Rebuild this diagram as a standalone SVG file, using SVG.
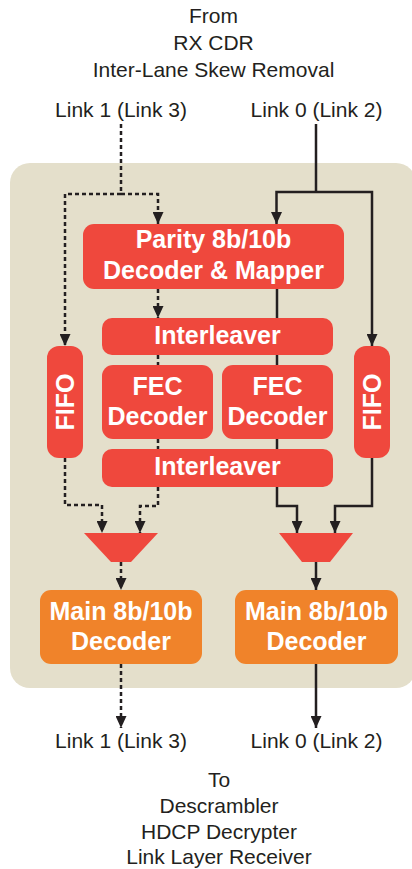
<svg xmlns="http://www.w3.org/2000/svg" width="412" height="869" viewBox="0 0 412 869">
<defs>
<marker id="ah" viewBox="0 0 12 11" refX="12" refY="5.5" markerWidth="12" markerHeight="11" markerUnits="userSpaceOnUse" orient="auto">
<path d="M0,0 L12,5.5 L0,11 z" fill="#231f20"/>
</marker>
<style>
.lbl{font-family:"Liberation Sans",Arial,sans-serif;font-size:21px;fill:#231f20;text-anchor:middle}
.bt{font-family:"Liberation Sans",Arial,sans-serif;font-size:25px;font-weight:bold;fill:#ffffff;text-anchor:middle}
.red{fill:#ef483d}
.org{fill:#f0832a}
.ln{fill:none;stroke:#231f20;stroke-width:2.5}
.dash{stroke-dasharray:4 3}
.arr{marker-end:url(#ah)}
</style>
</defs>
<rect x="10" y="163" width="406" height="525" rx="20" fill="#e4dfcb"/>
<g id="texts">
<text class="lbl" x="213.5" y="23">From</text>
<text class="lbl" x="213.5" y="50">RX CDR</text>
<text class="lbl" x="213.5" y="76.5">Inter-Lane Skew Removal</text>
<text class="lbl" x="121" y="117">Link 1 (Link 3)</text>
<text class="lbl" x="316.5" y="117">Link 0 (Link 2)</text>
<text class="lbl" x="121" y="748">Link 1 (Link 3)</text>
<text class="lbl" x="316.5" y="748">Link 0 (Link 2)</text>
<text class="lbl" x="219" y="786.5">To</text>
<text class="lbl" x="219" y="813">Descrambler</text>
<text class="lbl" x="219" y="839">HDCP Decrypter</text>
<text class="lbl" x="219" y="864">Link Layer Receiver</text>
</g>
<g id="connectors">
<path class="ln dash" d="M121,124 V194"/>
<path class="ln dash arr" d="M121,194 H65 V346"/>
<path class="ln dash arr" d="M121,194 H158 V224"/>
<path class="ln dash arr" d="M158,289 V318"/>
<path class="ln dash" d="M158,355 V365"/>
<path class="ln dash" d="M158,439 V449"/>
<path class="ln dash arr" d="M158,487 V506 H140 V533"/>
<path class="ln dash arr" d="M65,458 V505 H102 V533"/>
<path class="ln dash arr" d="M121,562 V590"/>
<path class="ln dash arr" d="M121,664 V728"/>
<path class="ln" d="M316,124 V192"/>
<path class="ln arr" d="M316,192 H276.5 V224"/>
<path class="ln arr" d="M316,192 H372 V346"/>
<path class="ln" d="M277,289 V318"/>
<path class="ln" d="M277,355 V365"/>
<path class="ln" d="M277,439 V449"/>
<path class="ln arr" d="M277,487 V506 H297 V533"/>
<path class="ln arr" d="M372,458 V506 H335 V533"/>
<path class="ln arr" d="M316,562 V590"/>
<path class="ln arr" d="M316,664 V728"/>
</g>
<g id="parity">
<rect class="red" x="83" y="224" width="261" height="65" rx="11"/>
<text class="bt" x="213.5" y="248">Parity 8b/10b</text>
<text class="bt" x="213.5" y="279">Decoder &amp; Mapper</text>
</g>
<g id="interleaver1">
<rect class="red" x="102" y="318" width="231" height="37" rx="10"/>
<text class="bt" x="217.5" y="344">Interleaver</text>
</g>
<g id="fec-left">
<rect class="red" x="102" y="365" width="111" height="74" rx="11"/>
<text class="bt" x="157.5" y="395">FEC</text>
<text class="bt" x="157.5" y="425">Decoder</text>
</g>
<g id="fec-right">
<rect class="red" x="222" y="365" width="111" height="74" rx="11"/>
<text class="bt" x="277.5" y="395">FEC</text>
<text class="bt" x="277.5" y="425">Decoder</text>
</g>
<g id="interleaver2">
<rect class="red" x="102" y="449" width="231" height="38" rx="10"/>
<text class="bt" x="217.5" y="475">Interleaver</text>
</g>
<g id="fifo-left">
<rect class="red" x="47" y="346" width="36" height="112" rx="12"/>
<text class="bt" transform="translate(74,402) rotate(-90)" x="0" y="0">FIFO</text>
</g>
<g id="fifo-right">
<rect class="red" x="354" y="346" width="36" height="112" rx="12"/>
<text class="bt" transform="translate(381,402) rotate(-90)" x="0" y="0">FIFO</text>
</g>
<g id="mux-left">
<polygon class="red" points="84,533 158,533 131,562 111,562"/>
</g>
<g id="mux-right">
<polygon class="red" points="279,533 353,533 330,562 302,562"/>
</g>
<g id="main-left">
<rect class="org" x="40" y="590" width="162" height="74" rx="11"/>
<text class="bt" x="121" y="620">Main 8b/10b</text>
<text class="bt" x="121" y="650">Decoder</text>
</g>
<g id="main-right">
<rect class="org" x="235" y="590" width="163" height="74" rx="11"/>
<text class="bt" x="316.5" y="620">Main 8b/10b</text>
<text class="bt" x="316.5" y="650">Decoder</text>
</g>
</svg>
